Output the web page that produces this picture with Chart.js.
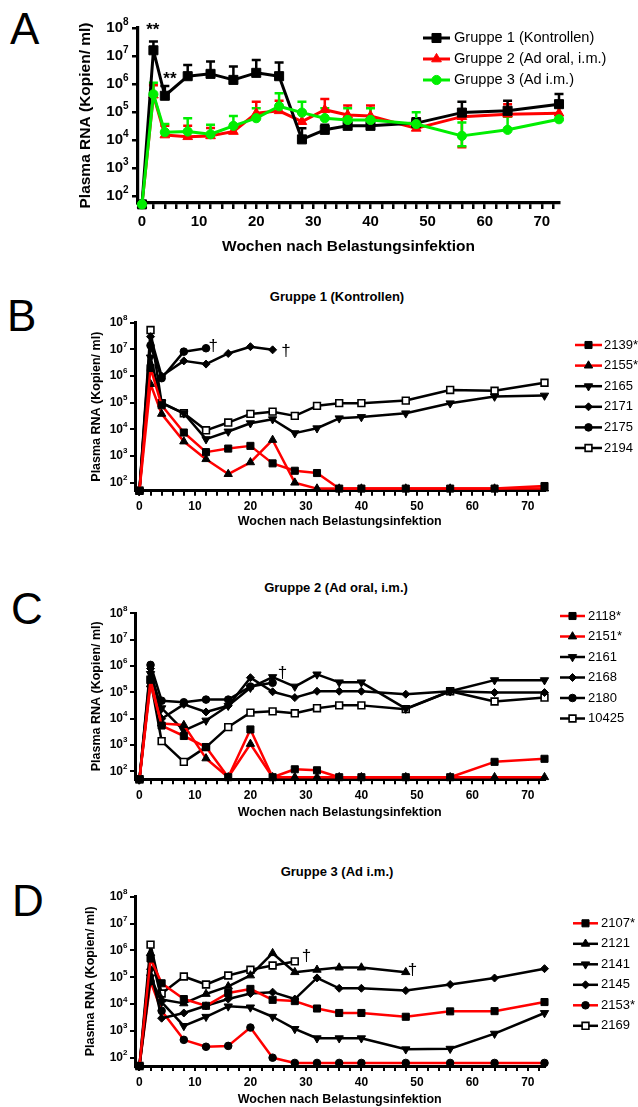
<!DOCTYPE html>
<html>
<head>
<meta charset="utf-8">
<script src="https://cdn.jsdelivr.net/npm/chart.js@4.4.1/dist/chart.umd.min.js"></script>
<style>
  html, body { margin: 0; padding: 0; background: #fff; }
  body { width: 638px; height: 1107px; position: relative; overflow: hidden; font-family: 'Liberation Sans', Arial, sans-serif; }
  canvas { position: absolute; left: 0; }
  .letter { position: absolute; font-size: 44px; line-height: 44px; color: #000; }
  .ptitle { position: absolute; width: 400px; text-align: center; font-weight: bold; font-size: 13px; line-height: 16px; color: #000; }
</style>
</head>
<body>
<div class="letter" style="left:10px; top:7px">A</div>
<div class="letter" style="left:7px; top:294px">B</div>
<div class="letter" style="left:11px; top:587px">C</div>
<div class="letter" style="left:12px; top:879px">D</div>
<div class="ptitle" style="left:137px; top:289px">Gruppe 1 (Kontrollen)</div>
<div class="ptitle" style="left:136px; top:580px">Gruppe 2 (Ad oral, i.m.)</div>
<div class="ptitle" style="left:137px; top:864px">Gruppe 3 (Ad i.m.)</div>

<canvas id="chart-a" width="638" height="262" style="top:0px"></canvas>
<canvas id="chart-b" width="638" height="262" style="top:270px"></canvas>
<canvas id="chart-c" width="638" height="280" style="top:545px"></canvas>
<canvas id="chart-d" width="638" height="277" style="top:830px"></canvas>

<script>
  // sampling weeks (all panels)
  const weeks = [0, 2, 4, 8, 12, 16, 20, 24, 28, 32, 36, 40, 48, 56, 64, 73];

  // panel A: group means and error bar ends
  const gruppe1 = [50, 1.6e7, 3.8e5, 1.9e6, 2.3e6, 1.4e6, 2.5e6, 1.9e6, 1.05e4, 2.3e4, 3.2e4, 3.2e4, 4e4, 9.5e4, 1.1e5, 1.9e5];
  const gruppe1Hi = [null, 3.3e7, 8.5e5, 4.8e6, 6.3e6, 4.2e6, 7.2e6, 5.8e6, 2.6e4, 3.5e4, 4.5e4, 4.5e4, 6e4, 2.3e5, 2.5e5, 4.4e5];
  const gruppe2 = [50, 4e5, 1.5e4, 1.3e4, 1.4e4, 2e4, 9e4, 1.1e5, 4.5e4, 1.2e5, 7.8e4, 7.2e4, 2.6e4, 6.8e4, 8.3e4, 9e4];
  const gruppe2Hi = [null, 9e5, 3.2e4, 3.2e4, 2.7e4, 3e4, 2.3e5, 2.5e5, 1e5, 2.9e5, 1.7e5, 1.7e5, 6e4, 1.2e5, 1.9e5, 1.7e5];
  const gruppe2Lo = [null, null, null, null, null, null, null, null, null, null, null, null, null, 5.5e3, null, null];
  const gruppe3 = [50, 4.3e5, 1.9e4, 2e4, 1.6e4, 3.2e4, 6e4, 1.6e5, 9.5e4, 6e4, 5.2e4, 5.2e4, 3.7e4, 1.4e4, 2.3e4, 5.5e4];
  const gruppe3Hi = [null, 1.1e6, 3.7e4, 6e4, 3.5e4, 7.2e4, 1.35e5, 4.7e5, 2.3e5, 1.35e5, 1.35e5, 1.35e5, 9.8e4, 4.2e4, 6.8e4, 1.5e5];
  const gruppe3Lo = [null, null, null, null, null, null, null, null, null, null, null, null, null, 6e3, null, null];

  // panel B: Gruppe 1 (Kontrollen)
  const b2139 = [50, 2e6, 8e4, 7.6e3, 1.4e3, 1.9e3, 2.4e3, 5.3e2, 2.8e2, 2.3e2, 60, 60, 60, 60, 60, 75];
  const b2155 = [50, 5e5, 3.8e4, 3.5e3, 7.6e2, 2.1e2, 5.8e2, 4e3, 1e2, 60, 60, 60, 60, 60, 60, 60];
  const b2165 = [50, 5e6, 1e5, 4e4, 4.3e3, 8.3e3, 1.7e4, 2.4e4, 7.2e3, 1.1e4, 2.6e4, 2.9e4, 4e4, 9.5e4, 1.7e5, 1.85e5];
  const b2171 = [50, 3e7, 1e6, 3.7e6, 2.8e6, 7e6, 1.26e7, 9.6e6];
  const b2175 = [50, 1.4e7, 8.3e5, 8.2e6, 1.1e7];
  const b2194 = [50, 5.3e7, 9.6e4, 4e4, 9.2e3, 1.8e4, 3.8e4, 4.6e4, 3.2e4, 7.6e4, 9.6e4, 9.6e4, 1.2e5, 3e5, 2.8e5, 5.6e5];

  // panel C: Gruppe 2 (Ad oral, i.m.)
  const c2118 = [50, 3e5, 5.5e3, 2.2e3, 8.4e2, 60, 3.9e3, 60, 1.2e2, 1.1e2, 60, 60, 60, 60, 2.3e2, 3e2];
  const c2151 = [50, 2e5, 6.5e3, 5.7e3, 3.1e2, 60, 1.1e3, 60, 60, 60, 60, 60, 60, 60, 60, 60];
  const c2161 = [50, 5e5, 2.5e4, 3.5e3, 8.5e3, 3.1e4, 1.5e5, 3.8e5, 1.66e5, 4.8e5, 2.4e5, 2.4e5, 2.4e4, 1.1e5, 2.9e5, 2.9e5];
  const c2168 = [50, 8e5, 1e4, 3.5e4, 1.8e4, 3.1e4, 3.6e5, 1.05e5, 6.3e4, 1.1e5, 1.1e5, 1.1e5, 8.5e4, 1.1e5, 9.8e4, 9.8e4];
  const c2180 = [50, 1.1e6, 4.8e4, 4.2e4, 5.3e4, 5.3e4, 1.66e5, 2.3e5];
  const c10425 = [50, 3e5, 1.4e3, 2.3e2, 8.3e2, 4.8e3, 1.7e4, 1.9e4, 1.6e4, 2.5e4, 3.2e4, 3.2e4, 2.3e4, 1.1e5, 4.5e4, 6.3e4];

  // panel D: Gruppe 3 (Ad i.m.)
  const d2107 = [50, 5e5, 6e4, 1.55e4, 8.7e3, 2.6e4, 3.7e4, 1.45e4, 1.3e4, 6.9e3, 4.7e3, 4.7e3, 3.4e3, 5.4e3, 5.5e3, 1.2e4];
  const d2121 = [50, 8e5, 1.5e4, 1.07e4, 2.4e4, 4.6e4, 1.17e5, 7.9e5, 1.55e5, 1.9e5, 2.3e5, 2.3e5, 1.55e5];
  const d2141 = [50, 1e5, 1.2e4, 1.55e3, 3.4e3, 8.3e3, 7.6e3, 3.4e3, 1.2e3, 5.4e2, 5.4e2, 5.4e2, 2.1e2, 2.2e2, 8e2, 4.7e3];
  const d2145 = [50, 2e5, 3e3, 4.7e3, 8.7e3, 1.55e4, 2.5e4, 2.8e4, 1.55e4, 9.5e4, 3.9e4, 3.9e4, 3.2e4, 5.4e4, 9.4e4, 2.1e5];
  const d2153 = [50, 7e4, 5.7e3, 4.7e2, 2.6e2, 2.8e2, 1.35e3, 1.02e2, 65, 65, 65, 65, 65, 65, 65, 65];
  const d2169 = [50, 1.65e6, 2.5e4, 1.07e5, 5.4e4, 1.17e5, 1.9e5, 2.75e5, 3.9e5];

  // significance / death marks: [week, value, text]
  const marksA = [[1.9, 8.5e7, '**'], [4.9, 1.5e6, '**']];
  const marksB = [[13.3, 1.3e7, '†'], [26.4, 8.7e6, '†']];
  const marksC = [[25.8, 5.5e5, '†']];
  const marksD = [[30.1, 5.9e5, '†'], [49.2, 1.9e5, '†']];

  const FONT = "'Liberation Sans', Arial, Helvetica, sans-serif";
  const RED = '#ff0000';
  const GREEN = '#00ee00';
  const BLACK = '#000000';

  function series(label, vals, look, extra) {
    return Object.assign({
      label,
      data: vals.map((v, i) => ({ x: weeks[i], y: v })),
      fill: false,
      tension: 0,
      clip: false,
      borderJoinStyle: 'round'
    }, look, extra || {});
  }

  // marker looks; small = panels B-D
  function look(shape, line, big) {
    const s = {
      borderColor: line,
      borderWidth: big ? 3 : 2.5,
      pointBackgroundColor: big ? line : BLACK,
      pointBorderColor: big ? line : BLACK,
      pointBorderWidth: 1,
      pointRotation: 0
    };
    if (shape === 'sq') { s.pointStyle = 'rect'; s.pointRadius = big ? 6.4 : 5; }
    if (shape === 'osq') { s.pointStyle = 'rect'; s.pointRadius = 4.8; s.pointBackgroundColor = '#fff'; s.pointBorderWidth = 1.6; }
    if (shape === 'tri') { s.pointStyle = 'triangle'; s.pointRadius = big ? 5.6 : 4.8; }
    if (shape === 'dtri') { s.pointStyle = 'triangle'; s.pointRadius = 4.8; s.pointRotation = 180; }
    if (shape === 'dia') { s.pointStyle = 'rectRot'; s.pointRadius = 4; }
    if (shape === 'dot') { s.pointStyle = 'circle'; s.pointRadius = big ? 4.6 : 3.8; }
    s.pointHoverRadius = s.pointRadius;
    return s;
  }

  const decor = {
    id: 'decor',
    beforeDatasetsDraw(chart, args, o) {
      const { ctx, scales: { x, y } } = chart;
      const metas = chart.getSortedVisibleDatasetMetas().slice().reverse();
      ctx.save();
      metas.forEach(meta => {
        const ds = chart.data.datasets[meta.index];
        if (!ds.errHi && !ds.errLo) return;
        ctx.strokeStyle = ds.borderColor;
        ctx.lineWidth = o.errWidth;
        [ds.errHi, ds.errLo].forEach(ends => {
          if (!ends) return;
          ends.forEach((e, i) => {
            if (e == null) return;
            const px = x.getPixelForValue(ds.data[i].x);
            const py = y.getPixelForValue(ds.data[i].y);
            const pe = y.getPixelForValue(e);
            ctx.beginPath();
            ctx.moveTo(px, py);
            ctx.lineTo(px, pe);
            ctx.moveTo(px - o.capW, pe);
            ctx.lineTo(px + o.capW, pe);
            ctx.stroke();
          });
        });
      });
      ctx.restore();
    },
    afterDraw(chart, args, o) {
      const { ctx, scales: { x, y } } = chart;
      ctx.save();

      // exponents of the 10^n tick labels
      const ys = y.options.ticks.font.size;
      ctx.fillStyle = '#000';
      ctx.font = 'bold ' + Math.round(ys * 0.68) + 'px ' + FONT;
      ctx.textAlign = 'left';
      ctx.textBaseline = 'middle';
      y.ticks.forEach(t => {
        const e = Math.round(Math.log10(t.value));
        ctx.fillText(String(e), y.right - o.expX, y.getPixelForValue(t.value) - ys * 0.4);
      });

      const L = o.legend;
      chart.data.datasets.forEach((ds, i) => {
        const yy = L.y + i * L.dy;
        ctx.strokeStyle = ds.borderColor;
        ctx.lineWidth = ds.borderWidth;
        ctx.beginPath();
        ctx.moveTo(L.x0, yy);
        ctx.lineTo(L.x1, yy);
        ctx.stroke();
        ctx.fillStyle = ds.pointBackgroundColor;
        ctx.strokeStyle = ds.pointBorderColor;
        ctx.lineWidth = ds.pointBorderWidth;
        Chart.helpers.drawPoint(ctx, {
          pointStyle: ds.pointStyle,
          rotation: ds.pointRotation,
          radius: ds.pointRadius,
          borderWidth: ds.pointBorderWidth
        }, (L.x0 + L.x1) / 2, yy);
        ctx.fillStyle = '#000';
        ctx.font = L.font;
        ctx.textAlign = 'left';
        ctx.textBaseline = 'middle';
        ctx.fillText(ds.label, L.tx, yy);
      });
      ctx.fillStyle = '#000';
      ctx.textAlign = 'center';
      ctx.textBaseline = 'middle';
      ctx.font = o.markFont;
      o.marks.forEach(([w, v, t]) => ctx.fillText(t, x.getPixelForValue(w), y.getPixelForValue(v)));
      ctx.restore();
    }
  };

  function weekTicks(scale) {
    const t = [];
    for (let w = 0; w <= 72; w += 2) t.push({ value: w });
    scale.ticks = t;
  }
  function decadeTicks(scale) {
    scale.ticks = [2, 3, 4, 5, 6, 7, 8].map(e => ({ value: Math.pow(10, e) }));
  }

  function panel(id, p) {
    return new Chart(document.getElementById(id), {
      type: 'line',
      data: { datasets: p.datasets },
      options: {
        responsive: false,
        animation: false,
        devicePixelRatio: 1,
        layout: { padding: { left: 0, top: p.top, right: p.right, bottom: 0 } },
        plugins: {
          legend: { display: false },
          tooltip: { enabled: false },
          decor: { legend: p.legend, marks: p.marks, markFont: p.markFont, errWidth: 2.5, capW: 4.5, expX: p.expX }
        },
        scales: {
          x: {
            type: 'linear',
            min: p.xMin,
            max: 73,
            afterBuildTicks: weekTicks,
            afterFit: s => { s.height = p.xH; },
            border: { color: BLACK, width: p.axisW },
            grid: { drawOnChartArea: false, color: BLACK, tickLength: p.tickL, lineWidth: p.tickW },
            ticks: {
              autoSkip: false, maxRotation: 0, color: BLACK, padding: p.xPad,
              font: { family: FONT, weight: 'bold', size: p.tickSize },
              callback: v => (v % 10 === 0 ? String(v) : '')
            },
            title: {
              display: true, text: 'Wochen nach Belastungsinfektion', color: BLACK,
              font: { family: FONT, weight: 'bold', size: p.titleSize },
              padding: { top: 0, bottom: p.xTitlePad }
            }
          },
          y: {
            type: 'logarithmic',
            min: p.yMin,
            max: 1e8,
            afterBuildTicks: decadeTicks,
            afterFit: s => { s.width = p.yW; },
            border: { color: BLACK, width: p.axisW },
            grid: { drawOnChartArea: false, color: BLACK, tickLength: p.tickL, lineWidth: p.tickW },
            ticks: {
              color: BLACK, padding: p.yPad,
              font: { family: FONT, weight: 'bold', size: p.tickSize },
              callback: () => '10'
            },
            title: {
              display: true, text: 'Plasma RNA (Kopien/ ml)', color: BLACK,
              font: { family: FONT, weight: 'bold', size: p.titleSize },
              padding: { top: p.yTitlePad, bottom: 0 }
            }
          }
        }
      },
      plugins: [decor]
    });
  }

  const small = { xMin: -0.8, right: 93.5, yW: 135, yMin: 50, axisW: 3, tickL: 5, tickW: 2, tickSize: 12, titleSize: 12.5, xPad: 4, yPad: 7, expX: 12, markFont: '17px ' + FONT };

  panel('chart-a', {
    datasets: [
      series('Gruppe 1 (Kontrollen)', gruppe1, look('sq', BLACK, true), { errHi: gruppe1Hi, order: 1 }),
      series('Gruppe 2 (Ad oral, i.m.)', gruppe2, look('tri', RED, true), { errHi: gruppe2Hi, errLo: gruppe2Lo, order: 2 }),
      series('Gruppe 3 (Ad i.m.)', gruppe3, look('dot', GREEN, true), { errHi: gruppe3Hi, errLo: gruppe3Lo, order: 0 })
    ],
    top: 28, right: 79, xMin: -0.7, xH: 59, yW: 138, yMin: 56,
    axisW: 3.2, tickL: 6, tickW: 2.5, tickSize: 15, titleSize: 15.5, xPad: 4, yPad: 9, expX: 15,
    xTitlePad: 6, yTitlePad: 76,
    legend: { x0: 423, x1: 450, tx: 454, y: 38, dy: 21, font: '14.6px ' + FONT },
    marks: marksA, markFont: 'bold 17px ' + FONT
  });

  panel('chart-b', Object.assign({}, small, {
    datasets: [
      series('2139*', b2139, look('sq', RED)),
      series('2155*', b2155, look('tri', RED)),
      series('2165', b2165, look('dtri', BLACK)),
      series('2171', b2171, look('dia', BLACK)),
      series('2175', b2175, look('dot', BLACK)),
      series('2194', b2194, look('osq', BLACK))
    ],
    top: 52.7, xH: 41.3, xTitlePad: 2.5, yTitlePad: 89.5,
    legend: { x0: 575, x1: 602, tx: 604, y: 75, dy: 20.6, font: '13px ' + FONT },
    marks: marksB
  }));

  panel('chart-c', Object.assign({}, small, {
    datasets: [
      series('2118*', c2118, look('sq', RED)),
      series('2151*', c2151, look('tri', RED)),
      series('2161', c2161, look('dtri', BLACK)),
      series('2168', c2168, look('dia', BLACK)),
      series('2180', c2180, look('dot', BLACK)),
      series('10425', c10425, look('osq', BLACK))
    ],
    top: 68.3, xH: 45.7, xTitlePad: 4.5, yTitlePad: 89.5,
    legend: { x0: 560, x1: 585, tx: 588, y: 71, dy: 20.5, font: '13px ' + FONT },
    marks: marksC
  }));

  panel('chart-d', Object.assign({}, small, {
    datasets: [
      series('2107*', d2107, look('sq', RED)),
      series('2121', d2121, look('tri', BLACK)),
      series('2141', d2141, look('dtri', BLACK)),
      series('2145', d2145, look('dia', BLACK)),
      series('2153*', d2153, look('dot', RED)),
      series('2169', d2169, look('osq', BLACK))
    ],
    top: 66.7, xH: 41, xTitlePad: 0, yTitlePad: 83,
    legend: { x0: 573, x1: 598, tx: 601, y: 93.3, dy: 20.5, font: '13px ' + FONT },
    marks: marksD
  }));
</script>
</body>
</html>
